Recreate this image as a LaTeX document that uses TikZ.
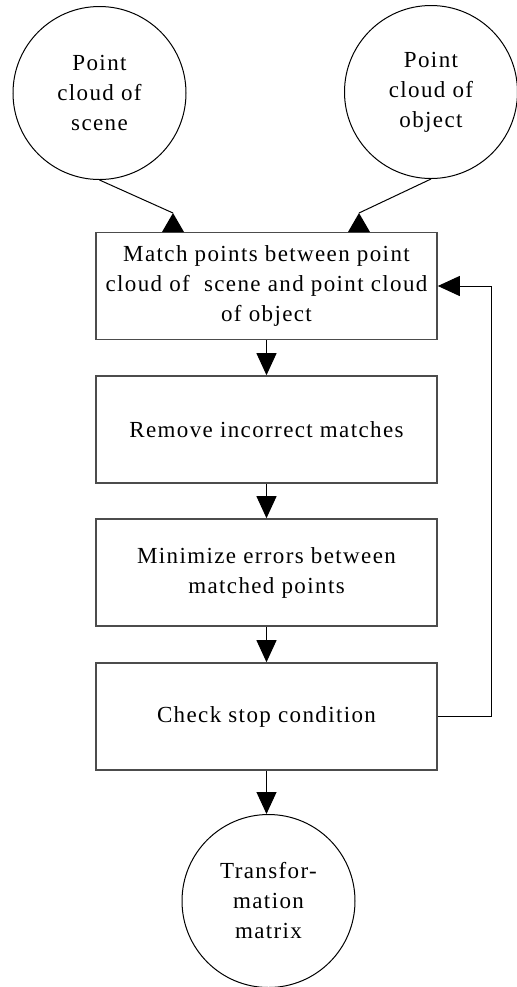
\documentclass[tikz,border=0pt]{standalone}
\usepackage{fontspec}
\setmainfont{Liberation Serif}[LetterSpace=6]
\usepackage{tikz}
\usetikzlibrary{arrows.meta}

\begin{document}
\begin{tikzpicture}[x=0.5pt,y=-0.5pt,
    every node/.style={font=\fontsize{11.5pt}{15pt}\selectfont,align=center},
    datacircle/.style={draw,circle,line width=0.5pt,minimum size=86.5pt,inner sep=0pt},
    stepbox/.style={draw=black!70,line width=0.8pt,minimum width=170.5pt,minimum height=53.5pt,inner sep=0pt},
    flow/.style={line width=0.5pt,-{Triangle[length=11pt,width=10pt]}},
    headtip/.style={fill=black}]
      \useasboundingbox (0,0) rectangle (516,987);
      % inputs
      \node[datacircle] (scene) at (99.5,93) {Point\\cloud of\\scene};
      \node[datacircle] (object) at (431,92) {Point\\cloud of\\object};
      % steps
      \node[stepbox] (match) at (266.5,286) {Match points between point\\cloud of \ scene and point cloud\\of object};
      \node[stepbox] (remove) at (266.5,429.5) {Remove incorrect matches};
      \node[stepbox] (minimize) at (266.5,572.5) {Minimize errors between\\matched points};
      \node[stepbox] (check) at (266.5,716.5) {Check stop condition};
      % output
      \node[datacircle] (result) at (268.5,901) {Transfor-\\mation\\matrix};
      \coordinate (scenetip) at (173,213);
      \coordinate (objecttip) at (359,213);
      \coordinate (loop) at (491,716.5);
      % connectors
      \draw[line width=0.5pt] (scene.south) -- (scenetip);
      \draw[line width=0.5pt] (object.south) -- (objecttip);
      \fill[headtip] (scenetip) -- ++(-11,19) -- ++(22,0) -- cycle;
      \fill[headtip] (objecttip) -- ++(-11,19) -- ++(22,0) -- cycle;
      \draw[flow] (match) -- (remove);
      \draw[flow] (remove) -- (minimize);
      \draw[flow] (minimize) -- (check);
      \draw[flow] (check.south) -- (check.south |- result.north);
      \draw[flow] (check.east) -- (loop) |- (match.east);
    \end{tikzpicture}
\end{document}
